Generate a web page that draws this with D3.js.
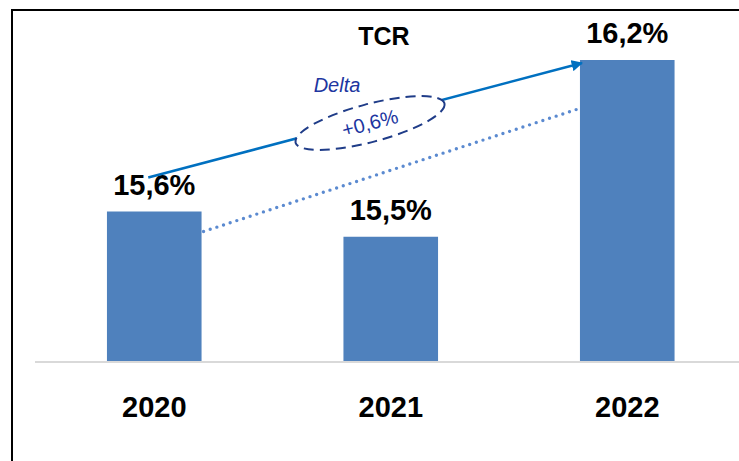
<!DOCTYPE html>
<html>
<head>
<meta charset="utf-8">
<script src="https://cdn.jsdelivr.net/npm/d3@7"></script>
<style>
  body { margin: 0; background: #fff; }
  svg { display: block; font-family: "Liberation Sans", Arial, sans-serif; }
</style>
</head>
<body>
<div id="chart"></div>
<script>
// data
const years = ["2020", "2021", "2022"];
const tcr = [15.6, 15.5, 16.2];
const valueLabels = ["15,6%", "15,5%", "16,2%"];
const deltaLabel = "+0,6%";

const W = 739, H = 461;
const BASE_Y = 361;

const svg = d3.select("#chart")
              .append("svg")
              .attr("width", W)
              .attr("height", H);

const x = d3.scaleBand()
            .domain(years)
            .range([36, 745.5])
            .paddingInner(0.6)
            .paddingOuter(0.3);

const y = d3.scaleLinear()
            .domain([15, 16.2])
            .range([363, 60]);

// frame (runs off right / bottom edge)
svg.append("rect")
   .attr("x", 12).attr("y", 10)
   .attr("width", 900).attr("height", 600)
   .attr("fill", "none")
   .attr("stroke", "#000")
   .attr("stroke-width", 2);

// bars
svg.selectAll("rect.bar")
   .data(tcr)
   .enter().append("rect")
   .attr("class", "bar")
   .attr("x", (d, i) => x(years[i]))
   .attr("y", d => y(d))
   .attr("width", x.bandwidth())
   .attr("height", d => BASE_Y - y(d))
   .attr("fill", "#4F81BD");

// baseline
svg.append("line")
   .attr("x1", 35).attr("x2", W)
   .attr("y1", BASE_Y + 1).attr("y2", BASE_Y + 1)
   .attr("stroke", "#D9D9D9")
   .attr("stroke-width", 2);

// x labels
const xAxis = d3.axisBottom(x).tickSize(0).tickPadding(0);
const xg = svg.append("g")
              .attr("transform", `translate(0, ${BASE_Y})`)
              .call(xAxis);
xg.select(".domain").remove();
xg.selectAll(".tick text")
  .attr("y", 56)
  .attr("dy", 0)
  .attr("fill", "#000")
  .style("font-size", "29px")
  .style("font-weight", "bold")
  .style("font-family", "'Liberation Sans', Arial, sans-serif");

// value labels
svg.selectAll("text.val")
   .data(tcr)
   .enter().append("text")
   .attr("class", "val")
   .attr("x", (d, i) => x(years[i]) + x.bandwidth() / 2)
   .attr("y", d => y(d) - 17)
   .attr("text-anchor", "middle")
   .style("font-size", "29px")
   .style("font-weight", "bold")
   .text((d, i) => valueLabels[i]);

// title
svg.append("text")
   .attr("x", 384).attr("y", 45)
   .attr("text-anchor", "middle")
   .style("font-size", "25px")
   .style("font-weight", "bold")
   .text("TCR");

// dotted trend line between 2020 and 2022
const x0 = x(years[0]) + x.bandwidth();
const x2 = x(years[2]);
svg.append("line")
   .attr("x1", x0 + 2).attr("y1", y(tcr[0]) + 20)
   .attr("x2", x2 - 2).attr("y2", y(tcr[2]) + 49)
   .attr("stroke", "#5B8AD0")
   .attr("stroke-width", 3.4)
   .attr("stroke-linecap", "round")
   .attr("stroke-dasharray", "0,7");

// delta arrow
svg.append("defs").append("marker")
   .attr("id", "head")
   .attr("viewBox", "0 0 10 10")
   .attr("refX", 9).attr("refY", 5)
   .attr("markerWidth", 4.4).attr("markerHeight", 4.4)
   .attr("markerUnits", "strokeWidth")
   .attr("orient", "auto")
   .append("path")
   .attr("d", "M0,0 L10,5 L0,10 z")
   .attr("fill", "#0070C0");

const ax1 = x(years[0]) + x.bandwidth() / 2 - 6, ay1 = y(tcr[0]) - 34;
const ax2 = x2 + 2, ay2 = y(tcr[2]) + 3;
svg.append("line")
   .attr("x1", ax1).attr("y1", ay1)
   .attr("x2", ax2).attr("y2", ay2)
   .attr("stroke", "#0070C0")
   .attr("stroke-width", 2.6)
   .attr("marker-end", "url(#head)");

// ellipse with delta
const ang = Math.atan2(ay2 - ay1, ax2 - ax1) * 180 / Math.PI;
const ecx = 370, ecy = 123;
const eg = svg.append("g")
              .attr("transform", `translate(${ecx}, ${ecy}) rotate(${ang})`);
eg.append("ellipse")
  .attr("rx", 77).attr("ry", 19)
  .attr("fill", "#fff")
  .attr("stroke", "#1F3C88")
  .attr("stroke-width", 2)
  .attr("stroke-dasharray", "10,6");
eg.append("text")
  .attr("x", 0).attr("y", 7)
  .attr("text-anchor", "middle")
  .attr("fill", "#2035A0")
  .style("font-size", "20px")
  .text(deltaLabel);

svg.append("text")
   .attr("x", 337).attr("y", 92)
   .attr("text-anchor", "middle")
   .attr("fill", "#2035A0")
   .style("font-size", "20px")
   .style("font-style", "italic")
   .text("Delta");
</script>
</body>
</html>
